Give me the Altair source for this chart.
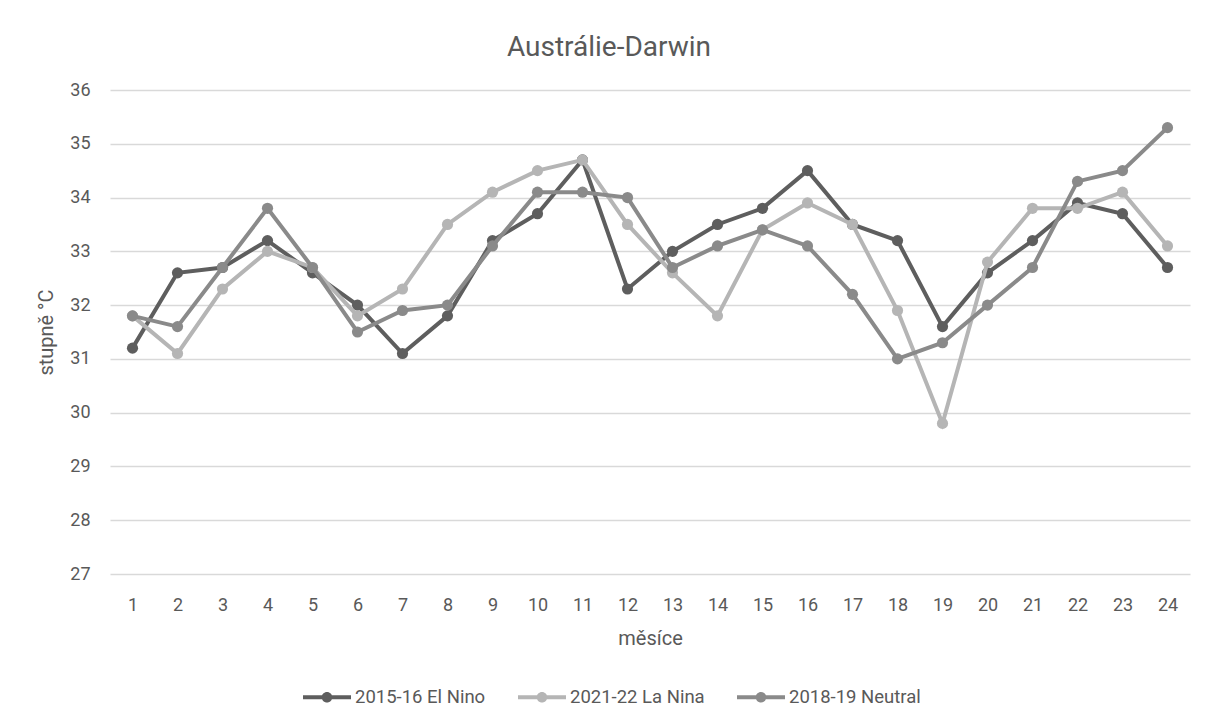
import altair as alt
import pandas as pd

months = list(range(1, 25))
series_names = ["2015-16 El Nino", "2021-22 La Nina", "2018-19 Neutral"]
el_nino = [31.2, 32.6, 32.7, 33.2, 32.6, 32.0, 31.1, 31.8, 33.2, 33.7, 34.7, 32.3,
           33.0, 33.5, 33.8, 34.5, 33.5, 33.2, 31.6, 32.6, 33.2, 33.9, 33.7, 32.7]
la_nina = [31.8, 31.1, 32.3, 33.0, 32.7, 31.8, 32.3, 33.5, 34.1, 34.5, 34.7, 33.5,
           32.6, 31.8, 33.4, 33.9, 33.5, 31.9, 29.8, 32.8, 33.8, 33.8, 34.1, 33.1]
neutral = [31.8, 31.6, 32.7, 33.8, 32.7, 31.5, 31.9, 32.0, 33.1, 34.1, 34.1, 34.0,
           32.7, 33.1, 33.4, 33.1, 32.2, 31.0, 31.3, 32.0, 32.7, 34.3, 34.5, 35.3]
colors = ["#5e5e5e", "#b5b5b5", "#8a8a8a"]
y_ticks = list(range(27, 37))

rows = []
for name, vals in zip(series_names, [el_nino, la_nina, neutral]):
    for m, v in zip(months, vals):
        rows.append({"mesic": m, "teplota": v, "rada": name})
df = pd.DataFrame(rows)

FONT = "Roboto"
TXT = "#595959"

legend_path = ("M-1,-0.085 L1,-0.085 L1,0.085 L-1,0.085 Z "
               "M-0.22,0 A0.22,0.22 0 1,1 0.22,0 A0.22,0.22 0 1,1 -0.22,0 Z")

color = alt.Color(
    "rada:N",
    scale=alt.Scale(domain=series_names, range=colors),
    legend=alt.Legend(
        title=None, orient="none", direction="horizontal",
        legendX=193, legendY=583,
        symbolType=legend_path, symbolSize=2304, symbolStrokeWidth=0,
        symbolOpacity=1,
        labelFont=FONT, labelFontSize=18.5, labelColor=TXT, labelOffset=4,
        columnPadding=32,
    ),
)

x = alt.X("mesic:O", title="měsíce",
          scale=alt.Scale(type="point", padding=0.5),
          axis=alt.Axis(labelAngle=0, ticks=False, domain=False, grid=False,
                        labelPadding=22, titlePadding=14,
                        labelFont=FONT, labelFontSize=18, labelColor=TXT,
                        titleFont=FONT, titleFontSize=20, titleColor=TXT,
                        titleFontWeight="normal"))
y = alt.Y("teplota:Q", title="stupně °C",
          scale=alt.Scale(domain=[27, 36], nice=False, zero=False),
          axis=alt.Axis(values=y_ticks, ticks=False, domain=False, grid=True,
                        gridColor="#d9d9d9", gridWidth=1.5,
                        labelPadding=20, titlePadding=13,
                        labelFont=FONT, labelFontSize=18, labelColor=TXT,
                        titleFont=FONT, titleFontSize=20, titleColor=TXT,
                        titleFontWeight="normal"))

fill = alt.Fill("rada:N", scale=alt.Scale(domain=series_names, range=colors), legend=None)

layers = []
for name in series_names:
    base = alt.Chart(df).transform_filter(alt.datum.rada == name)
    layers.append(base.mark_line(strokeWidth=4).encode(x=x, y=y, color=color))
    layers.append(base.mark_point(filled=True, size=125, opacity=1).encode(
        x=x, y=y, color=color, fill=fill))

chart = alt.layer(*layers).properties(
    width=1080, height=484,
    background="white",
    title=alt.TitleParams("Austrálie-Darwin", font=FONT, fontSize=28,
                          fontWeight="normal", color=TXT, anchor="middle",
                          dx=-41, offset=19),
    padding={"left": 102, "top": 82, "right": 10, "bottom": 140},
    autosize=alt.AutoSizeParams(type="none"),
).configure_view(stroke=None)

chart.save("out.html", embed_options={"renderer": "svg", "actions": False})
